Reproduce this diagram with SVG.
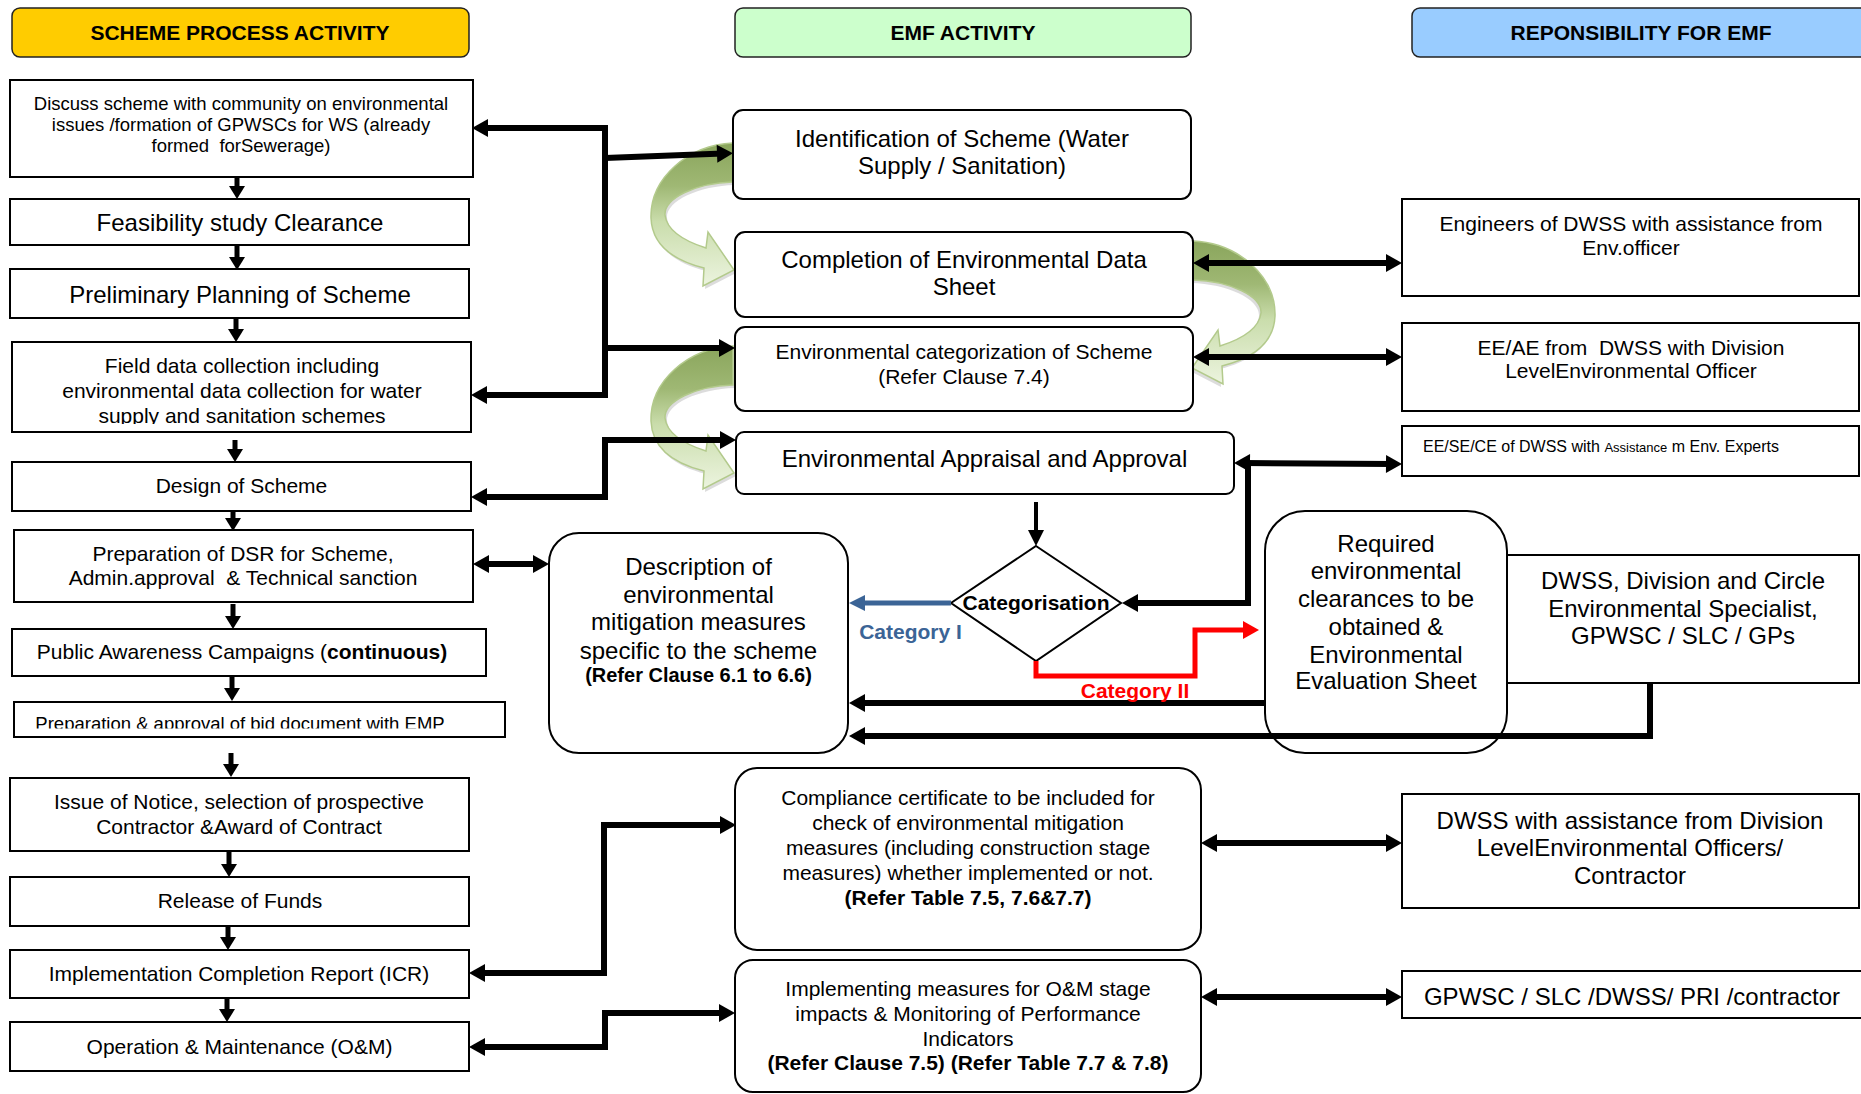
<svg xmlns="http://www.w3.org/2000/svg" width="1861" height="1094" viewBox="0 0 1861 1094">
<style>
text { font-family: "Liberation Sans", Arial, sans-serif; fill: #000; }
.m { text-anchor: middle; }
.b { font-weight: bold; }
.s16 { font-size: 16px; }
.s18 { font-size: 18.5px; }
.s21 { font-size: 21px; }
.s24 { font-size: 24px; }
.box { fill: #fff; stroke: #000; stroke-width: 2; }
.hdr { stroke: #222; stroke-width: 1.5; }
.conn { fill: none; stroke: #000; stroke-width: 6; stroke-linejoin: miter; }
.dn { fill: none; stroke: #000; stroke-width: 5; }
.curl { fill: url(#gCurl); stroke: #B3CA8C; stroke-width: 1.5; }
.curlsh { fill: #9a9a9a; opacity: 0.35; }
</style>
<defs>
<linearGradient id="gCurl" x1="0" y1="0" x2="0" y2="1">
<stop offset="0" stop-color="#8AA55C"/>
<stop offset="0.3" stop-color="#9FB874"/>
<stop offset="0.55" stop-color="#CADDAC"/>
<stop offset="1" stop-color="#ECF4DF"/>
</linearGradient>
<path id="curl" d="M733,143 C688,145 650,178 651,218 C652,244 672,260 704,268 L703,286 L734,270 L708,232 L706,248 C684,241 667,231 665,215 C664,198 696,183 733,182 Z"/>
<marker id="ah" markerUnits="userSpaceOnUse" markerWidth="16" markerHeight="18" refX="6" refY="9" orient="auto-start-reverse" overflow="visible"><path d="M0,0 L16,9 L0,18 Z" fill="#000"/></marker>
<marker id="ahs" markerUnits="userSpaceOnUse" markerWidth="16" markerHeight="16" refX="4" refY="8" orient="auto" overflow="visible"><path d="M0,0 L16,8 L0,16 Z" fill="#000"/></marker>
<marker id="ahb" markerUnits="userSpaceOnUse" markerWidth="16" markerHeight="16" refX="4" refY="8" orient="auto" overflow="visible"><path d="M0,0 L16,8 L0,16 Z" fill="#3B6496"/></marker>
<marker id="ahr" markerUnits="userSpaceOnUse" markerWidth="16" markerHeight="18" refX="4" refY="9" orient="auto" overflow="visible"><path d="M0,0 L16,9 L0,18 Z" fill="#FF0000"/></marker>
<marker id="dh" markerUnits="userSpaceOnUse" markerWidth="13" markerHeight="16" refX="0" refY="8" orient="auto" overflow="visible"><path d="M0,0 L13,8 L0,16 Z" fill="#000"/></marker>
<clipPath id="clipField"><rect x="13" y="343" width="457" height="81"/></clipPath>
<clipPath id="clipBid"><rect x="15" y="703" width="489" height="25.5"/></clipPath>
</defs>

<g id="curls">
<use href="#curl" class="curlsh" transform="translate(2,3)"/>
<use href="#curl" class="curl"/>
<use href="#curl" class="curlsh" transform="translate(1924,101) scale(-1,1)"/>
<use href="#curl" class="curl" transform="translate(1926,98) scale(-1,1)"/>
<use href="#curl" class="curlsh" transform="translate(2,206)"/>
<use href="#curl" class="curl" transform="translate(0,203)"/>
</g>

<g id="h-scheme"><rect x="12" y="8" width="457" height="49" rx="8" class="hdr" fill="#FFCC00"/><text x="240" y="40" class="m b s21">SCHEME PROCESS ACTIVITY</text></g>
<g id="h-emf"><rect x="735" y="8" width="456" height="49" rx="8" class="hdr" fill="#CCFFCC"/><text x="963" y="40" class="m b s21">EMF ACTIVITY</text></g>
<g id="h-resp"><rect x="1412" y="8" width="470" height="49" rx="8" class="hdr" fill="#99CCFF"/><text x="1641" y="40" class="m b s21">REPONSIBILITY FOR EMF</text></g>

<g id="n-discuss"><rect x="10" y="80" width="463" height="97" class="box"/>
<text class="m s18" xml:space="preserve"><tspan x="241" y="109.5">Discuss scheme with community on environmental</tspan><tspan x="241" y="130.5">issues /formation of GPWSCs for WS (already</tspan><tspan x="241" y="152">formed  forSewerage)</tspan></text></g>
<g id="n-feasibility"><rect x="10" y="199" width="459" height="46" class="box"/><text x="240" y="231" class="m s24">Feasibility study Clearance</text></g>
<g id="n-preliminary"><rect x="10" y="269" width="459" height="49" class="box"/><text x="240" y="303" class="m s24">Preliminary Planning of Scheme</text></g>
<g id="n-field"><rect x="12" y="342" width="459" height="90" class="box"/>
<text class="m s21" clip-path="url(#clipField)"><tspan x="242" y="372.5">Field data collection including</tspan><tspan x="242" y="397.5">environmental data collection for water</tspan><tspan x="242" y="423">supply and sanitation schemes</tspan></text></g>
<g id="n-design"><rect x="12" y="462" width="459" height="49" class="box"/><text x="241.5" y="493" class="m s21">Design of Scheme</text></g>
<g id="n-dsr"><rect x="14" y="530" width="459" height="72" class="box"/>
<text class="m s21" xml:space="preserve"><tspan x="243" y="560.5">Preparation of DSR for Scheme,</tspan><tspan x="243" y="584.5">Admin.approval  &amp; Technical sanction</tspan></text></g>
<g id="n-public"><rect x="12" y="629" width="474" height="47" class="box"/><text x="242" y="659" class="m s21">Public Awareness Campaigns (<tspan class="b">continuous)</tspan></text></g>
<g id="n-bid"><rect x="14" y="702" width="491" height="35" class="box"/><text x="240" y="730" class="m" style="font-size:18.5px" clip-path="url(#clipBid)">Preparation &amp; approval of bid document with EMP</text></g>
<g id="n-issue"><rect x="10" y="778" width="459" height="73" class="box"/>
<text class="m s21"><tspan x="239" y="809">Issue of Notice, selection of prospective</tspan><tspan x="239" y="834">Contractor &amp;Award of Contract</tspan></text></g>
<g id="n-release"><rect x="10" y="877" width="459" height="49" class="box"/><text x="240" y="907.5" class="m s21">Release of Funds</text></g>
<g id="n-icr"><rect x="10" y="950" width="459" height="48" class="box"/><text x="239" y="981" class="m s21">Implementation Completion Report (ICR)</text></g>
<g id="n-om"><rect x="10" y="1022" width="459" height="49" class="box"/><text x="239.5" y="1053.5" class="m s21">Operation &amp; Maintenance (O&amp;M)</text></g>

<g id="n-identification"><rect x="733" y="110" width="458" height="89" rx="10" class="box"/>
<text class="m s24"><tspan x="962" y="147">Identification of Scheme (Water</tspan><tspan x="962" y="173.5">Supply / Sanitation)</tspan></text></g>
<g id="n-completion"><rect x="735" y="232" width="458" height="85" rx="10" class="box"/>
<text class="m s24"><tspan x="964" y="268">Completion of Environmental Data</tspan><tspan x="964" y="294.5">Sheet</tspan></text></g>
<g id="n-categorization"><rect x="735" y="327" width="458" height="84" rx="10" class="box"/>
<text class="m s21"><tspan x="964" y="359">Environmental categorization of Scheme</tspan><tspan x="964" y="383.5">(Refer Clause 7.4)</tspan></text></g>
<g id="n-appraisal"><rect x="736" y="432" width="498" height="62" rx="8" class="box"/><text x="984.5" y="467" class="m s24">Environmental Appraisal and Approval</text></g>
<g id="n-description"><rect x="549" y="533" width="299" height="220" rx="30" class="box"/>
<text class="m s24"><tspan x="698.5" y="575">Description of</tspan><tspan x="698.5" y="602.5">environmental</tspan><tspan x="698.5" y="630">mitigation measures</tspan><tspan x="698.5" y="658.5">specific to the scheme</tspan></text>
<text x="698.5" y="682" class="m b" style="font-size:20px">(Refer Clause 6.1 to 6.6)</text></g>
<g id="n-categorisation"><polygon points="1036,546 1121,603 1036,661 951,603" fill="#fff" stroke="#000" stroke-width="2"/><text x="1036" y="610" class="m b s21">Categorisation</text></g>
<g id="n-dwss-circle"><rect x="1507" y="555" width="352" height="128" class="box"/>
<text class="m s24"><tspan x="1683" y="588.5">DWSS, Division and Circle</tspan><tspan x="1683" y="617">Environmental Specialist,</tspan><tspan x="1683" y="643.5">GPWSC / SLC / GPs</tspan></text></g>
<g id="n-required"><rect x="1265" y="511" width="242" height="242" rx="40" class="box"/>
<text class="m s24"><tspan x="1386" y="552">Required</tspan><tspan x="1386" y="579">environmental</tspan><tspan x="1386" y="607">clearances to be</tspan><tspan x="1386" y="635">obtained &amp;</tspan><tspan x="1386" y="662.5">Environmental</tspan><tspan x="1386" y="689">Evaluation Sheet</tspan></text></g>
<g id="n-compliance"><rect x="735" y="768" width="466" height="182" rx="22" class="box"/>
<text class="m s21"><tspan x="968" y="805">Compliance certificate to be included for</tspan><tspan x="968" y="830">check of environmental mitigation</tspan><tspan x="968" y="855">measures (including construction stage</tspan><tspan x="968" y="880">measures) whether implemented or not.</tspan></text>
<text x="968" y="905" class="m b s21">(Refer Table 7.5, 7.6&amp;7.7)</text></g>
<g id="n-implementing"><rect x="735" y="960" width="466" height="132" rx="18" class="box"/>
<text class="m s21"><tspan x="968" y="995.5">Implementing measures for O&amp;M stage</tspan><tspan x="968" y="1020.5">impacts &amp; Monitoring of Performance</tspan><tspan x="968" y="1045.5">Indicators</tspan></text>
<text x="968" y="1070" class="m b s21">(Refer Clause 7.5) (Refer Table 7.7 &amp; 7.8)</text></g>

<g id="n-engineers"><rect x="1402" y="199" width="457" height="97" class="box"/>
<text class="m s21"><tspan x="1631" y="230.5">Engineers of DWSS with assistance from</tspan><tspan x="1631" y="254.5">Env.officer</tspan></text></g>
<g id="n-eeae"><rect x="1402" y="323" width="457" height="88" class="box"/>
<text class="m s21" xml:space="preserve"><tspan x="1631" y="354.5">EE/AE from  DWSS with Division</tspan><tspan x="1631" y="377.5">LevelEnvironmental Officer</tspan></text></g>
<g id="n-eesece"><rect x="1402" y="426" width="457" height="50" class="box"/>
<text x="1423" y="452" class="s16">EE/SE/CE of DWSS with <tspan style="font-size:13px">Assistance</tspan> m Env. Experts</text></g>
<g id="n-dwss-assist"><rect x="1402" y="794" width="457" height="114" class="box"/>
<text class="m s24"><tspan x="1630" y="828.5">DWSS with assistance from Division</tspan><tspan x="1630" y="856">LevelEnvironmental Officers/</tspan><tspan x="1630" y="883.5">Contractor</tspan></text></g>
<g id="n-gpwsc"><rect x="1402" y="971" width="470" height="47" class="box"/><text x="1632" y="1005" class="m s24">GPWSC / SLC /DWSS/ PRI /contractor</text></g>

<g id="connectors">
<line x1="237" y1="178" x2="237" y2="186" class="dn" marker-end="url(#dh)"/>
<line x1="237" y1="245" x2="237" y2="257" class="dn" marker-end="url(#dh)"/>
<line x1="236" y1="318" x2="236" y2="329" class="dn" marker-end="url(#dh)"/>
<line x1="235" y1="440" x2="235" y2="449" class="dn" marker-end="url(#dh)"/>
<line x1="233" y1="511" x2="233" y2="518" class="dn" marker-end="url(#dh)"/>
<line x1="233" y1="604" x2="233" y2="616" class="dn" marker-end="url(#dh)"/>
<line x1="232" y1="677" x2="232" y2="688" class="dn" marker-end="url(#dh)"/>
<line x1="231" y1="753" x2="231" y2="764" class="dn" marker-end="url(#dh)"/>
<line x1="229" y1="852" x2="229" y2="864" class="dn" marker-end="url(#dh)"/>
<line x1="228" y1="926" x2="228" y2="937" class="dn" marker-end="url(#dh)"/>
<line x1="227" y1="998" x2="227" y2="1009" class="dn" marker-end="url(#dh)"/>

<path d="M482,128 L605,128 L605,395 L481,395" class="conn" marker-start="url(#ah)" marker-end="url(#ah)"/>
<path d="M605,158 L723,153.6" class="conn" marker-end="url(#ah)"/>
<path d="M605,348 L725,348" class="conn" marker-end="url(#ah)"/>
<path d="M726,440 L605,440 L605,497 L481,497" class="conn" marker-start="url(#ah)" marker-end="url(#ah)"/>
<path d="M483,564 L539,564" class="conn" marker-start="url(#ah)" marker-end="url(#ah)"/>
<path d="M1203,263 L1392,263" class="conn" marker-start="url(#ah)" marker-end="url(#ah)"/>
<path d="M1203,357 L1392,357" class="conn" marker-start="url(#ah)" marker-end="url(#ah)"/>
<path d="M1244,463 L1392,464" class="conn" marker-start="url(#ah)" marker-end="url(#ah)"/>
<path d="M1248,463 L1248,603 L1132,603" class="conn" marker-end="url(#ah)"/>
<path d="M1036,502 L1036,534" fill="none" stroke="#000" stroke-width="4" marker-end="url(#ahs)"/>
<path d="M951,603 L861,603" fill="none" stroke="#3B6496" stroke-width="5" marker-end="url(#ahb)"/>
<path d="M1036,661 L1036,676 L1195,676 L1195,630 L1247,630" fill="none" stroke="#FF0000" stroke-width="5" marker-end="url(#ahr)"/>
<path d="M1266,703 L859,703" class="conn" marker-end="url(#ah)"/>
<path d="M1650,683 L1650,736 L859,736" class="conn" marker-end="url(#ah)"/>
<path d="M726,825 L604,825 L604,973 L479,973" class="conn" marker-start="url(#ah)" marker-end="url(#ah)"/>
<path d="M725,1013 L605,1013 L605,1047 L479,1047" class="conn" marker-start="url(#ah)" marker-end="url(#ah)"/>
<path d="M1211,843 L1392,843" class="conn" marker-start="url(#ah)" marker-end="url(#ah)"/>
<path d="M1211,997 L1392,997" class="conn" marker-start="url(#ah)" marker-end="url(#ah)"/>
<text x="910.5" y="638.5" class="m b s21" style="fill:#3B6496">Category I</text>
<text x="1135" y="697.5" class="m b s21" style="fill:#FF0000">Category II</text>
</g>
</svg>
